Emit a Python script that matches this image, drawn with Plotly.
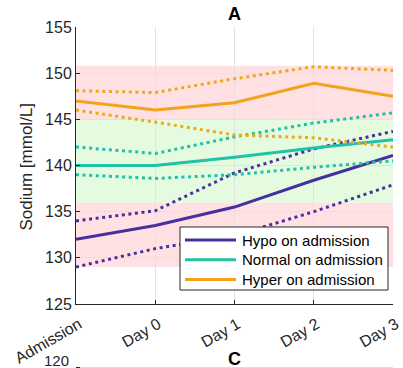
import plotly.graph_objects as go

# Time points and their tick labels
days = [0, 1, 2, 3, 4]
day_labels = ["Admission", "Day 0", "Day 1", "Day 2", "Day 3"]

# Mean sodium and confidence bounds per admission group [mmol/L]
hypo_mean = [132.0, 133.5, 135.5, 138.4, 141.1]
hypo_upper = [134.0, 135.1, 139.2, 141.8, 143.7]
hypo_lower = [129.0, 131.0, 132.4, 135.0, 137.9]

normal_mean = [140.0, 140.0, 140.9, 141.9, 142.8]
normal_upper = [142.0, 141.3, 143.1, 144.6, 145.7]
normal_lower = [139.0, 138.6, 139.0, 139.8, 140.5]

hyper_mean = [147.0, 146.0, 146.8, 148.9, 147.5]
hyper_upper = [148.1, 147.9, 149.4, 150.7, 150.3]
hyper_lower = [146.0, 144.7, 143.3, 143.0, 142.0]

# Shaded sodium ranges: (low, high, colour)
range_low = [129.0, 136.0, 145.0]
range_high = [136.0, 145.0, 150.8]
range_fill = ["#FFE1E4", "#E4FBE0", "#FFE1E4"]

group_names = ["Hypo on admission", "Normal on admission", "Hyper on admission"]
group_colors = ["#4630A0", "#1FC2A6", "#F4A21E"]
bound_colors = ["#4630A0", "#1FC2A6", "#EBAA1C"]

y_ticks = [125, 130, 135, 140, 145, 150, 155]

FONT = "Liberation Sans, Arial, sans-serif"
INK = "#262626"

fig = go.Figure()

groups = [
    (hypo_mean, hypo_upper, hypo_lower),
    (normal_mean, normal_upper, normal_lower),
    (hyper_mean, hyper_upper, hyper_lower),
]

for (mean, upper, lower), name, col, bcol in zip(groups, group_names, group_colors, bound_colors):
    for bound in (upper, lower):
        fig.add_trace(go.Scatter(
            x=days, y=bound, mode="lines", showlegend=False, hoverinfo="skip",
            line=dict(color=bcol, width=3, dash="3px,3.6px"),
        ))
    fig.add_trace(go.Scatter(
        x=days, y=mean, mode="lines", name=name, showlegend=False,
        line=dict(color=col, width=3),
    ))

# Background bands
for lo, hi, fc in zip(range_low, range_high, range_fill):
    fig.add_shape(type="rect", xref="x", yref="y", x0=days[0], x1=days[-1],
                  y0=lo, y1=hi, fillcolor=fc, line_width=0, layer="below")

# Legend box drawn in paper coordinates
W, H, L, T = 317.0, 277.0, 76.0, 27.0


def px(xp):
    return (xp - L) / W


def py(yp):
    return 1 - (yp - T) / H


fig.add_shape(type="rect", xref="paper", yref="paper",
              x0=px(180), x1=px(388), y0=py(290), y1=py(227),
              fillcolor="white", line=dict(color=INK, width=1), layer="above")
for i, (name, col) in enumerate(zip(group_names, group_colors)):
    row_y = 240 + i * 19.8
    fig.add_shape(type="line", xref="paper", yref="paper",
                  x0=px(185), x1=px(236), y0=py(row_y), y1=py(row_y),
                  line=dict(color=col, width=3), layer="above")
    fig.add_annotation(xref="paper", yref="paper", x=px(240), y=py(row_y),
                       text=name, showarrow=False, xanchor="left", yanchor="middle",
                       font=dict(family=FONT, size=15, color="black"))

# Y-axis label
fig.add_annotation(xref="paper", yref="paper", x=px(26), y=py(166.5),
                   text="Sodium [mmol/L]", textangle=-90, showarrow=False,
                   xanchor="center", yanchor="middle",
                   font=dict(family=FONT, size=17, color=INK))

# Top of the next panel below
fig.add_annotation(xref="paper", yref="paper", x=0.5, y=py(359),
                   text="<b>C</b>", showarrow=False, xanchor="center", yanchor="middle",
                   font=dict(family=FONT, size=18, color="black"))
fig.add_annotation(xref="paper", yref="paper", x=px(71), y=py(360),
                   text="120", showarrow=False, xanchor="right", yanchor="middle",
                   font=dict(family=FONT, size=15, color=INK))
fig.add_shape(type="line", xref="paper", yref="paper", x0=0, x1=1,
              y0=py(367.5), y1=py(367.5), line=dict(color="#F3D3D6", width=1))
fig.add_shape(type="line", xref="paper", yref="paper", x0=0, x1=px(80),
              y0=py(367.5), y1=py(367.5), line=dict(color=INK, width=1))

fig.update_layout(
    width=403, height=368,
    margin=dict(l=76, r=10, t=27, b=64, autoexpand=False),
    paper_bgcolor="white", plot_bgcolor="white",
    title=dict(text="<b>A</b>", x=0.5, xref="paper", xanchor="center",
               y=1 - 14 / 368, yanchor="middle",
               font=dict(family=FONT, size=18, color="black")),
    font=dict(family=FONT, size=16, color=INK),
    showlegend=False,
)
fig.update_xaxes(
    range=[days[0], days[-1]], tickvals=days, ticktext=day_labels, tickangle=-30,
    ticklabelstandoff=4, ticklabelshift=3, ticklabeloverflow="allow",
    automargin=False,
    showgrid=True, gridcolor="#E2E2E2", gridwidth=1,
    showline=True, linecolor=INK, linewidth=1,
    ticks="inside", ticklen=4, tickcolor=INK, zeroline=False,
    tickfont=dict(family=FONT, size=16, color=INK),
)
fig.update_yaxes(
    range=[y_ticks[0], y_ticks[-1]], tickvals=y_ticks, automargin=False,
    showgrid=True, gridcolor="#E2E2E2", gridwidth=1,
    showline=True, linecolor=INK, linewidth=1,
    ticks="inside", ticklen=4, tickcolor=INK, zeroline=False,
    tickfont=dict(family=FONT, size=16, color=INK),
)

fig.write_html("out.html")
